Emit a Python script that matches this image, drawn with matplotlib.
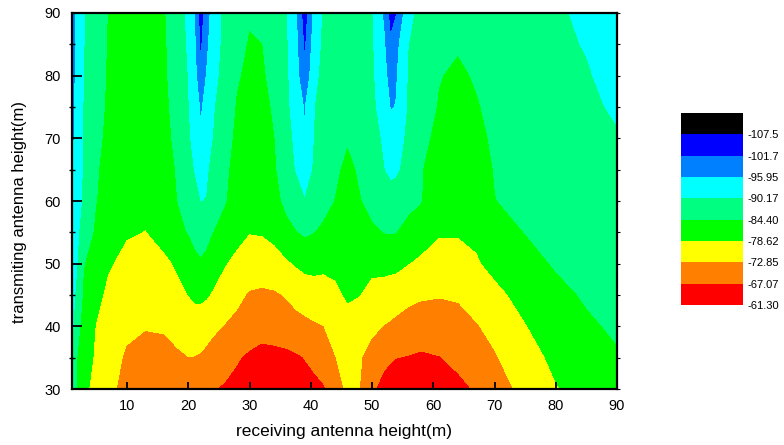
import numpy as np
import matplotlib.pyplot as plt

plt.rcParams['font.family'] = ['Liberation Sans', 'DejaVu Sans']

# receiving antenna height (m) = columns, transmitting antenna height (m) = rows
rx = [1, 2, 3, 5, 7, 10, 13, 16, 18, 20, 21, 22, 23, 24, 26, 28, 30, 32, 34, 36,
      37.5, 39, 40.5, 42, 44, 46, 48, 50, 52, 53, 54, 56, 58, 61, 64, 67, 70, 75, 80, 85, 90]
tx = [30, 35, 40, 45, 50, 55, 60, 65, 70, 75, 80, 85, 90]

# received level (dB), one list per receiving height, tx = 30 ... 90
loss = [
    [-89.5, -90.8, -92.5, -93.5, -94.5, -95.5, -96.3, -96.7, -97.2, -97.6, -98.0, -98.3, -98.6],
    [-83.5, -84.2, -86.0, -88.2, -90.2, -91.0, -92.5, -93.0, -93.5, -93.8, -94.0, -94.2, -94.3],
    [-80.4, -81.8, -82.75, -83.7, -84.7, -87.8, -89.3, -89.6, -89.8, -90.0, -90.2, -90.4, -90.6],
    [-76.5, -77.8, -78.5, -80.4, -81.9, -83.6, -84.6, -85.0, -85.8, -86.3, -86.7, -87.0, -87.3],
    [-73.6, -75.3, -76.0, -77.4, -79.3, -81.5, -82.5, -82.7, -83.2, -83.7, -83.9, -84.1, -84.3],
    [-72.0, -72.2, -74.0, -75.5, -77.0, -79.2, -80.5, -81.0, -81.5, -82.0, -82.3, -82.6, -82.8],
    [-71.0, -70.6, -73.3, -74.8, -76.6, -78.55, -79.8, -80.4, -81.0, -81.3, -81.6, -81.9, -82.2],
    [-70.0, -70.9, -73.6, -75.8, -77.5, -81.0, -82.0, -82.5, -83.0, -83.3, -83.6, -83.8, -84.1],
    [-69.4, -72.0, -74.8, -77.2, -79.3, -83.0, -84.3, -84.7, -85.5, -86.2, -87.0, -87.3, -87.5],
    [-68.7, -72.9, -76.0, -78.8, -81.0, -84.8, -87.0, -88.8, -89.5, -90.2, -90.5, -91.0, -91.5],
    [-68.4, -72.8, -76.3, -79.6, -83.0, -86.2, -88.8, -90.5, -92.5, -93.0, -94.0, -95.0, -95.9],
    [-68.0, -72.4, -76.0, -79.8, -83.9, -86.9, -90.3, -92.8, -95.4, -96.6, -100.0, -103.0, -104.5],
    [-67.7, -71.6, -75.3, -79.3, -83.0, -86.2, -90.0, -91.2, -93.0, -94.5, -95.6, -97.2, -99.0],
    [-67.4, -70.7, -74.2, -78.3, -81.0, -84.6, -88.0, -88.7, -90.3, -90.9, -92.0, -93.0, -93.5],
    [-66.6, -69.3, -72.7, -76.3, -79.0, -82.2, -84.9, -85.5, -86.8, -87.5, -88.5, -88.8, -89.0],
    [-65.7, -67.6, -71.3, -74.4, -77.4, -80.2, -82.0, -82.6, -83.2, -84.0, -84.9, -86.3, -87.0],
    [-64.8, -66.3, -70.3, -72.4, -76.5, -78.8, -81.0, -81.5, -82.0, -82.5, -83.4, -84.0, -85.0],
    [-64.0, -65.6, -69.0, -71.9, -76.3, -79.0, -81.5, -82.0, -82.7, -83.2, -83.8, -84.4, -86.0],
    [-63.9, -65.5, -69.8, -72.3, -76.8, -80.0, -83.2, -83.8, -84.4, -85.0, -86.0, -86.5, -87.5],
    [-64.3, -65.9, -70.4, -73.4, -78.0, -83.3, -85.5, -88.0, -88.3, -89.0, -89.5, -89.8, -90.2],
    [-64.8, -66.5, -71.0, -74.7, -79.2, -84.2, -87.8, -90.5, -91.5, -93.0, -93.5, -94.0, -95.0],
    [-65.4, -67.3, -71.7, -75.5, -80.3, -85.3, -90.0, -92.7, -95.6, -96.4, -100.5, -102.8, -105.0],
    [-65.7, -68.6, -72.4, -75.9, -80.5, -84.6, -88.0, -89.8, -90.3, -90.5, -92.2, -93.6, -95.0],
    [-66.6, -70.3, -72.9, -76.5, -79.8, -83.4, -86.5, -88.0, -88.3, -88.5, -88.8, -89.4, -89.9],
    [-70.6, -72.9, -75.0, -77.8, -79.7, -82.6, -84.3, -85.4, -87.0, -87.8, -88.2, -88.6, -89.0],
    [-74.2, -74.4, -76.8, -79.4, -80.3, -82.0, -82.6, -83.2, -85.0, -87.3, -88.0, -88.4, -88.8],
    [-73.1, -73.5, -75.8, -78.8, -80.6, -82.7, -84.2, -85.2, -86.5, -88.0, -88.6, -88.9, -89.2],
    [-67.9, -71.0, -74.2, -77.0, -80.1, -83.7, -86.0, -87.8, -88.5, -89.3, -89.6, -89.8, -90.2],
    [-65.8, -68.2, -72.8, -75.9, -80.7, -84.6, -87.5, -90.2, -91.0, -92.5, -94.0, -95.5, -97.0],
    [-65.2, -67.6, -72.4, -75.5, -80.5, -84.7, -88.0, -91.4, -94.0, -96.2, -98.7, -100.9, -104.0],
    [-64.8, -67.2, -71.9, -75.0, -80.4, -84.6, -87.8, -91.0, -92.0, -95.8, -96.3, -97.5, -101.9],
    [-64.2, -66.9, -70.9, -74.2, -78.8, -82.3, -86.3, -88.3, -89.3, -89.6, -89.8, -90.3, -91.5],
    [-64.0, -66.4, -70.2, -73.6, -77.8, -81.0, -84.8, -84.9, -86.5, -87.5, -88.0, -88.5, -88.8],
    [-64.3, -67.0, -69.8, -73.3, -77.0, -79.0, -80.3, -81.4, -82.5, -84.0, -84.7, -86.0, -87.0],
    [-65.5, -68.9, -70.3, -73.8, -77.0, -79.0, -79.9, -80.9, -81.8, -82.5, -83.5, -85.0, -86.0],
    [-67.9, -70.7, -72.6, -75.3, -78.2, -79.5, -80.7, -81.7, -82.8, -84.0, -85.0, -86.0, -86.8],
    [-70.5, -72.5, -74.5, -77.5, -80.0, -82.3, -84.3, -84.8, -85.5, -86.0, -86.8, -87.4, -87.5],
    [-74.6, -76.4, -78.5, -80.3, -82.6, -84.6, -86.0, -86.5, -87.0, -87.6, -88.0, -88.4, -88.7],
    [-78.4, -80.0, -81.1, -83.0, -85.0, -86.0, -87.2, -87.7, -88.1, -88.5, -88.8, -89.2, -89.5],
    [-80.5, -82.0, -83.6, -85.1, -86.0, -87.0, -88.0, -88.6, -89.3, -89.5, -89.8, -90.5, -91.2],
    [-82.0, -83.9, -85.3, -85.8, -86.6, -87.5, -88.3, -89.1, -89.9, -90.7, -92.0, -93.0, -93.5],
]

levels = [-113.3, -107.5, -101.7, -95.95, -90.17, -84.40, -78.62, -72.85, -67.07, -61.30]
level_labels = ['-107.5', '-101.7', '-95.95', '-90.17', '-84.40',
                '-78.62', '-72.85', '-67.07', '-61.30']
colors = ['#000000', '#0000ff', '#0080ff', '#00ffff', '#00ff80',
          '#00ff00', '#ffff00', '#ff8000', '#ff0000']

Z = np.array(loss).T

fig = plt.figure(figsize=(7.84, 4.45), dpi=100)
ax = fig.add_axes([0.0918, 0.1258, 0.6952, 0.845])
cs = ax.contourf(rx, tx, Z, levels=levels, colors=colors, antialiased=False)

ax.set_xlim(1, 90)
ax.set_ylim(30, 90)
ax.set_xticks(range(10, 91, 10))
ax.set_yticks(range(30, 91, 10))
ax.set_yticks(range(35, 90, 10), minor=True)
ax.tick_params(axis='y', which='major', direction='in', length=7, width=1.3,
               labelsize=10.5, pad=8)
ax.tick_params(axis='y', which='minor', direction='inout', length=4, width=1)
ax.tick_params(axis='x', which='major', direction='in', length=5, width=1.3,
               labelsize=10.5, pad=7)
for s in ax.spines.values():
    s.set_linewidth(1.6)

# small outward ticks on the right side
ax2 = ax.twinx()
ax2.set_ylim(30, 90)
ax2.set_yticks(range(30, 91, 5))
ax2.set_yticklabels([])
ax2.tick_params(axis='y', direction='out', length=2, width=0.8)
for s in ax2.spines.values():
    s.set_visible(False)

ax.set_xlabel('receiving antenna height(m)', fontsize=12.5)
ax.xaxis.set_label_coords(0.5, -0.093)
ax.set_ylabel('transmiting antenna height(m)', fontsize=12)
ax.yaxis.set_label_coords(-0.083, 0.47)

cax = fig.add_axes([0.8686, 0.3146, 0.0791, 0.4315])
cb = fig.colorbar(cs, cax=cax, ticks=levels[1:])
cb.ax.invert_yaxis()
cb.set_ticklabels(level_labels)
cb.outline.set_visible(False)
cax.tick_params(length=0, labelsize=8, pad=3)

fig.savefig('out.png', dpi=100)
